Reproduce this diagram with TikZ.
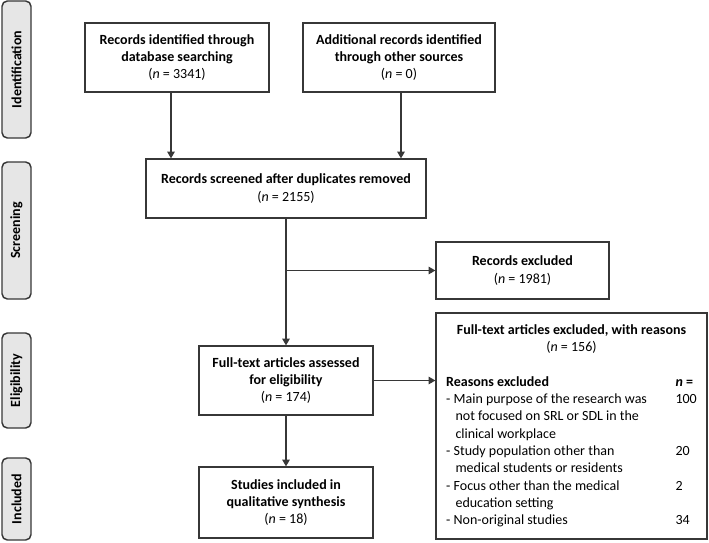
\documentclass[tikz,border=0pt]{standalone}
\usepackage{fontspec}
\setmainfont{Carlito}
\usetikzlibrary{calc,arrows.meta,positioning}
\definecolor{linegray}{RGB}{55,55,55}
\definecolor{phasegray}{RGB}{230,230,230}
\tikzset{
    every node/.style={font=\fontsize{10.5}{13}\selectfont},
    flow box/.style={draw=linegray,line width=0.9pt,align=center,inner sep=2pt},
    phase node/.style={draw=linegray,line width=1.1pt,fill=phasegray,rounded corners=4pt,
        rotate=90,minimum height=21.75pt,inner sep=1pt,font=\fontsize{10.5}{13}\selectfont\bfseries},
    flow/.style={->,draw=linegray,line width=1pt}
}

\begin{document}
\begin{tikzpicture}[
            > = {Triangle[length=5pt,width=5.5pt]}, % arrow head style
            x = 0.75pt, y = -0.75pt % one unit = one pixel of the reference
        ]
        \useasboundingbox (0,0) rectangle (709,542);

        % phases on the left
        \node[phase node, minimum width=102.75pt] (idph) at (16.5,69.5) {Identification};
        \node[phase node, minimum width=102.75pt] (scph) at (16.5,230.5) {Screening};
        \node[phase node, minimum width=71.25pt] (elph) at (16.5,380.5) {Eligibility};
        \node[phase node, minimum width=61.5pt] (inph) at (16.5,499) {Included};

        % boxes
        \node[flow box, minimum width=138pt, minimum height=51.75pt] (db) at (177,57.5)
            {\textbf{Records identified through}\\\textbf{database searching}\\(\textit{n} = 3341)};
        \node[flow box, minimum width=144pt, minimum height=51.75pt] (other) at (399,57.5)
            {\textbf{Additional records identified}\\\textbf{through other sources}\\(\textit{n} = 0)};
        \node[flow box, minimum width=210pt, minimum height=44.25pt] (scr) at (286,188.5)
            {\textbf{Records screened after duplicates removed}\\(\textit{n} = 2155)};
        \node[flow box, minimum width=129.75pt, minimum height=42.75pt] (excl) at (522.5,270.5)
            {\textbf{Records excluded}\\(\textit{n} = 1981)};
        \node[flow box, minimum width=130.5pt, minimum height=51.75pt] (ft) at (286,380.5)
            {\textbf{Full-text articles assessed}\\\textbf{for eligibility}\\(\textit{n} = 174)};
        \node[flow box, minimum width=130.5pt, minimum height=53.25pt] (incl) at (286,502.5)
            {\textbf{Studies included in}\\\textbf{qualitative synthesis}\\(\textit{n} = 18)};
        \node[flow box, minimum width=203.25pt, minimum height=169.5pt] (reasons) at (571.5,426)
            {\begin{tabular}{@{}p{172pt}@{}l@{}}
                \multicolumn{2}{@{}c@{}}{\textbf{Full-text articles excluded, with reasons}}\\
                \multicolumn{2}{@{}c@{}}{(\textit{n} = 156)}\\[13pt]
                \textbf{Reasons excluded} & \textbf{\textit{n} =}\\
                - Main purpose of the research was & 100\\
                \hspace*{7pt}not focused on SRL or SDL in the & \\
                \hspace*{7pt}clinical workplace & \\
                - Study population other than & 20\\
                \hspace*{7pt}medical students or residents & \\
                - Focus other than the medical & 2\\
                \hspace*{7pt}education setting & \\
                - Non-original studies & 34
            \end{tabular}};

        % connectors
        \draw[flow] ([xshift=-4.5pt]db.south) -- ([xshift=-4.5pt]db.south |- scr.north);
        \draw[flow] ([xshift=1.5pt]other.south) -- ([xshift=1.5pt]other.south |- scr.north);
        \draw[flow] (scr.south) -- (ft.north);
        \draw[flow] (scr.south |- excl.west) -- (excl.west);
        \draw[flow] (ft.east) -- (ft.east -| reasons.west);
        \draw[flow] (ft.south) -- (incl.north);

\end{tikzpicture}
\end{document}
